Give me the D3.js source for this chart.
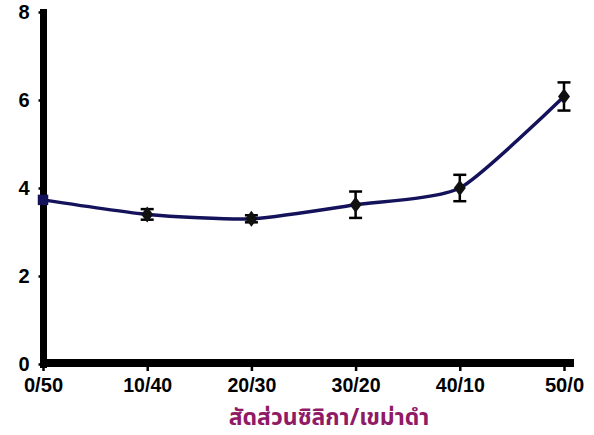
<!DOCTYPE html>
<html><head><meta charset="utf-8">
<script src="https://cdn.jsdelivr.net/npm/d3@7"></script>
<style>body{margin:0;background:#fff}svg{display:block}</style>
</head><body>
<svg id="c" width="594" height="435"></svg>
<script>
const categories = ["0/50","10/40","20/30","30/20","40/10","50/0"];
const values = [3.73, 3.40, 3.30, 3.62, 4.00, 6.08];
const errors = [0.05, 0.12, 0.08, 0.30, 0.30, 0.32];
const yTicks = [0,2,4,6,8];
const xTitle = "สัดส่วนซิลิกา/เขม่าดำ";

const svg = d3.select("#c");
const x = d3.scalePoint().domain(categories).range([43,564]);
const y = d3.scaleLinear().domain([0,8]).range([364,12]);

// y axis
const gy = svg.append("g").attr("transform","translate(43.5,0)")
  .call(d3.axisLeft(y).tickValues(yTicks).tickSize(5).tickSizeOuter(0).tickPadding(9));
gy.select(".domain").attr("d","M0,9V368").attr("stroke","#000").attr("stroke-width",7);
gy.selectAll(".tick line").attr("stroke","#000").attr("stroke-width",2.5);
gy.selectAll(".tick text").attr("font-family","Liberation Sans, Arial, sans-serif")
  .attr("font-weight","bold").attr("font-size",20).attr("fill","#000");

// x axis
const gx = svg.append("g").attr("transform","translate(0,363)")
  .call(d3.axisBottom(x).tickSize(8).tickSizeOuter(0).tickPadding(7));
gx.select(".domain").attr("d","M40,0H574").attr("stroke","#000").attr("stroke-width",8);
gx.selectAll(".tick line").attr("stroke","#000").attr("stroke-width",2.5);
gx.selectAll(".tick text").attr("font-family","Liberation Sans, Arial, sans-serif")
  .attr("font-weight","bold").attr("font-size",20).attr("fill","#000");
gx.selectAll(".tick text").each(function(d){
  d3.select(this).attr("textLength", d.length*9.8).attr("lengthAdjust","spacingAndGlyphs");
});

// title
svg.append("text").attr("x",329).attr("y",425).attr("text-anchor","middle")
  .attr("font-family","Noto Sans Thai, Noto Sans, DejaVu Sans, sans-serif")
  .attr("font-size",23).attr("font-weight","bold").attr("fill","#901a66").text(xTitle);

const data = categories.map((c,i)=>({c, v:values[i], e:errors[i]}));

// line
const line = d3.line().x(d=>x(d.c)).y(d=>y(d.v)).curve(d3.curveCardinal.tension(0.4));
svg.append("path").datum(data).attr("d",line).attr("fill","none")
  .attr("stroke","#14125a").attr("stroke-width",3.5);

// error bars
const eb = svg.append("g").attr("stroke","#000").attr("stroke-width",2.5);
data.forEach(d=>{
  if (d.e < 0.08) return;
  const cx = x(d.c);
  eb.append("line").attr("x1",cx).attr("x2",cx).attr("y1",y(d.v+d.e)).attr("y2",y(d.v-d.e));
  eb.append("line").attr("x1",cx-6.5).attr("x2",cx+6.5).attr("y1",y(d.v+d.e)).attr("y2",y(d.v+d.e));
  eb.append("line").attr("x1",cx-6.5).attr("x2",cx+6.5).attr("y1",y(d.v-d.e)).attr("y2",y(d.v-d.e));
});

// markers
svg.append("g").selectAll("path").data(data).join("path")
  .attr("transform",(d,i)=>`translate(${x(d.c)},${y(d.v)})`)
  .attr("d",(d,i)=> i===0 ? d3.symbol(d3.symbolSquare,110)() : "M0,-8L6,0L0,8L-6,0Z")
  .attr("fill",(d,i)=> i===0 ? "#14125a" : "#111");
</script>
</body></html>
